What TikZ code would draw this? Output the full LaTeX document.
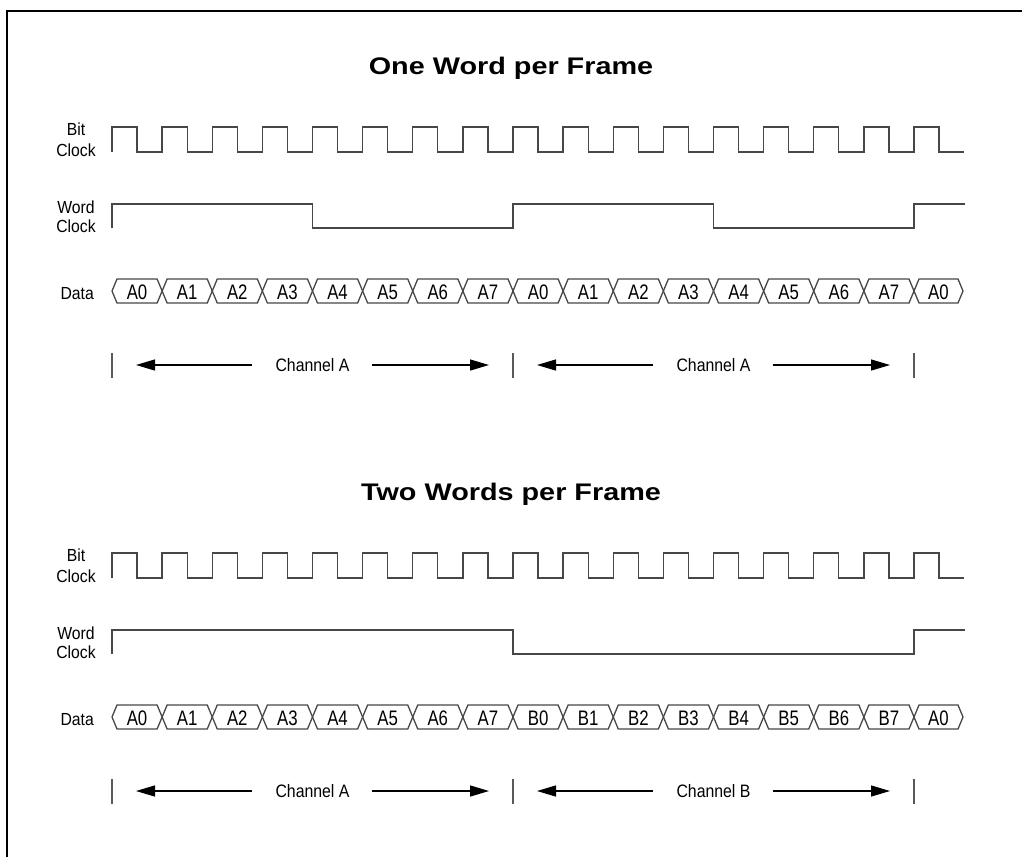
\documentclass[tikz,border=0pt]{standalone}
\usepackage{fontspec}
\setmainfont{Liberation Sans}
\usetikzlibrary{arrows.meta}
\newcommand{\sx}[2]{\scalebox{#1}[1]{#2}}
\newcommand{\bitclock}{%
  \draw[sig] (112,152) foreach \k in {0,...,16} {
    -- ({112+50.125*\k},127) -- ({137.06+50.125*\k},127)
    -- ({137.06+50.125*\k},152) -- ({162.125+50.125*\k},152)};
}
\newcommand{\datarow}[2]{%
  \foreach \lab [count=\i from 0] in {#2} {
    \pgfmathsetmacro{\xa}{112+50.125*\i}
    \pgfmathsetmacro{\xb}{\i<16 ? 162.125+50.125*\i : 963}
    \pgfmathsetmacro{\xm}{(\xa+\xb)/2}
    \draw[sig] (\xa,291) -- ({\xa+5},279) -- ({\xb-5},279) -- (\xb,291)
      -- ({\xb-5},303) -- ({\xa+5},303) -- cycle;
    \node[cell] (#1d\i) at (\xm,299) {\sx{0.8}{\lab}};
  }
}
\newcommand{\labels}[1]{%
  \node[lbl] (#1l1) at (76,135) {\sx{0.9}{Bit}};
  \node[lbl] (#1l2) at (76,156) {\sx{0.9}{Clock}};
  \node[lbl] (#1l3) at (76,213) {\sx{0.9}{Word}};
  \node[lbl] (#1l4) at (76,232) {\sx{0.9}{Clock}};
  \node[lbl, anchor=base east] (#1l5) at (94,299) {\sx{0.9}{Data}};
}
\newcommand{\channels}[3]{%
  \coordinate (#1b0) at (112,365);
  \coordinate (#1b1) at (513,365);
  \coordinate (#1b2) at (914,365);
  \foreach \j in {0,1,2} \draw[bar] ([yshift=-13pt]#1b\j) -- ([yshift=12pt]#1b\j);
  \node[chan] (#1c1) at (312.5,365) {\sx{0.88}{Channel #2}};
  \node[chan] (#1c2) at (713.5,365) {\sx{0.88}{Channel #3}};
  \draw[arr] ([xshift=-23pt]#1c1.west) -- ([xshift=24pt]#1b0);
  \draw[arr] ([xshift=22pt]#1c1.east) -- ([xshift=-24pt]#1b1);
  \draw[arr] ([xshift=-23pt]#1c2.west) -- ([xshift=24pt]#1b1);
  \draw[arr] ([xshift=22pt]#1c2.east) -- ([xshift=-24pt]#1b2);
}
\begin{document}
\begin{tikzpicture}[x=1pt,y=-1pt,
  sig/.style={line width=1.3pt, draw=black!72, line join=miter},
  lbl/.style={anchor=base, inner sep=0pt, font=\fontsize{17.5}{17.5}\selectfont},
  cell/.style={anchor=base, inner sep=0pt, font=\fontsize{21}{21}\selectfont},
  ttl/.style={anchor=base, inner sep=0pt, font=\fontsize{24}{24}\selectfont\bfseries},
  chan/.style={anchor=center, inner sep=0pt, font=\fontsize{18}{18}\selectfont},
  arr/.style={line width=1.2pt, -{Triangle[length=19pt,width=11pt]}},
  bar/.style={line width=1.3pt, draw=black!65}]
\useasboundingbox (0,0) rectangle (1022,857);
\draw[line width=2.5pt] (7,857) -- (7,11) -- (1022,11);

% ---------- One Word per Frame ----------
\node[ttl] (t1) at (511,74) {\sx{1.2}{One Word per Frame}};
\labels{a}
\bitclock
\draw[sig] (112,228) -- (112,204) -- (312.5,204) -- (312.5,228) -- (513,228)
  -- (513,204) -- (713.5,204) -- (713.5,228) -- (914,228) -- (914,204) -- (965,204);
\datarow{a}{A0,A1,A2,A3,A4,A5,A6,A7,A0,A1,A2,A3,A4,A5,A6,A7,A0}
\channels{a}{A}{A}

% ---------- Two Words per Frame ----------
\node[ttl] (t2) at (511,500) {\sx{1.2}{Two Words per Frame}};
\begin{scope}[shift={(0,426)}]
\labels{b}
\bitclock
\draw[sig] (112,228) -- (112,204) -- (513,204) -- (513,228) -- (914,228)
  -- (914,204) -- (965,204);
\datarow{b}{A0,A1,A2,A3,A4,A5,A6,A7,B0,B1,B2,B3,B4,B5,B6,B7,A0}
\channels{b}{A}{B}
\end{scope}
\end{tikzpicture}
\end{document}
